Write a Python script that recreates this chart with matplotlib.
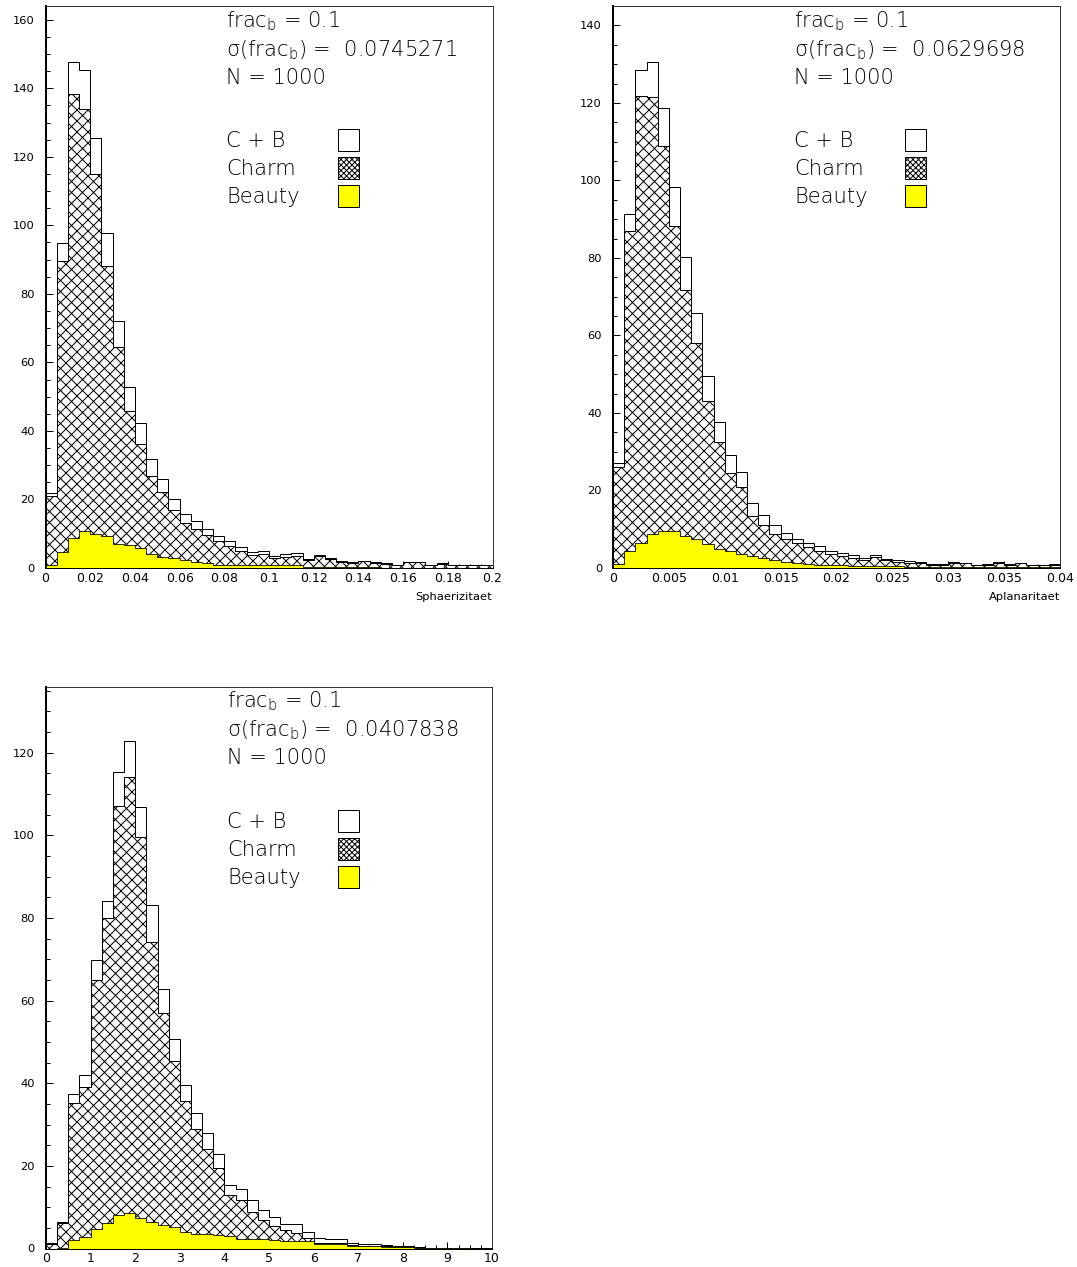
import numpy as np
import matplotlib
matplotlib.use('Agg')
import matplotlib.pyplot as plt
from matplotlib.patches import Rectangle
from matplotlib.ticker import FixedLocator, FixedFormatter, MultipleLocator

DPI = 66
W, H = 1077, 1267


def pt(px):
    return px * 72.0 / DPI


plt.rcParams['font.family'] = ['DejaVu Sans']
plt.rcParams['hatch.linewidth'] = pt(1.0)
plt.rcParams['hatch.color'] = 'black'

# ---------------- data ----------------
# Panel 1: Sphaerizitaet, 40 bins on [0, 0.2]
sph_range = (0.0, 0.2)
sph_total = [22, 94.7, 147.6, 145.2, 125.6, 97.9, 72.2, 52.9, 42.3, 31.7,
             26.1, 20.0, 15.8, 13.7, 11.5, 9.3, 7.8, 6.1, 4.8, 4.9,
             3.6, 4.1, 4.3, 2.6, 3.8, 2.9, 2.0, 1.7, 2.1, 1.7,
             1.4, 1.0, 1.8, 1.8, 1.0, 1.4, 1.0, 1.0, 0.9, 1.0]
sph_charm = [21, 89.6, 138.3, 133.9, 114.9, 88.1, 64.6, 45.9, 36.1, 26.8,
             22.2, 16.8, 13.2, 11.5, 9.6, 8.0, 6.4, 5.1, 3.9, 4.0,
             2.8, 3.3, 3.5, 2.3, 3.5, 2.7, 1.8, 1.5, 1.9, 1.5,
             1.3, 0.9, 1.7, 1.7, 0.9, 1.3, 0.9, 0.9, 0.8, 0.9]
sph_beauty = [1.0, 4.8, 8.8, 10.7, 10.0, 9.3, 7.1, 6.6, 5.7, 4.1,
              3.3, 2.8, 2.2, 1.7, 1.4, 1.0, 1.0, 1.0, 0.9, 0.9,
              0.8, 0.8, 0.8, 0.3, 0.3, 0.2, 0.2, 0.2, 0.2, 0.2,
              0.1, 0.1, 0.1, 0.1, 0.1, 0.1, 0.1, 0.1, 0.1, 0.1]
sph_xticklabels = ['0', '0.02', '0.04', '0.06', '0.08', '0.1', '0.12',
                   '0.14', '0.16', '0.18', '0.2']
sph_sigma = '0.0745271'

# Panel 2: Aplanaritaet, 40 bins on [0, 0.04]
apl_range = (0.0, 0.04)
apl_total = [27.0, 91.4, 128.4, 130.6, 118.7, 98.2, 80.2, 65.7, 49.6, 37.6,
             29.2, 24.7, 16.8, 13.7, 11.0, 9.0, 7.6, 6.5, 5.6, 4.4,
             3.9, 3.4, 2.7, 3.4, 2.4, 2.0, 1.7, 1.5, 1.1, 1.1,
             1.6, 1.4, 0.9, 1.1, 1.5, 1.1, 1.4, 0.9, 0.9, 1.1]
apl_charm = [26.0, 86.9, 121.7, 121.5, 109.0, 88.2, 71.6, 58.0, 43.2, 32.4,
             24.5, 20.8, 13.5, 11.2, 8.8, 7.6, 6.5, 5.4, 4.4, 3.5,
             3.0, 2.7, 2.0, 2.8, 2.0, 1.6, 1.4, 1.2, 0.9, 0.9,
             1.4, 1.2, 0.7, 0.9, 1.3, 0.9, 1.2, 0.7, 0.7, 0.9]
apl_beauty = [1.0, 4.3, 6.5, 8.8, 9.6, 9.6, 8.3, 7.6, 6.2, 4.9,
              4.3, 3.6, 3.1, 2.5, 2.0, 1.6, 1.3, 1.1, 0.9, 0.9,
              0.7, 0.6, 0.6, 0.6, 0.5, 0.4, 0.3, 0.3, 0.2, 0.2,
              0.2, 0.2, 0.2, 0.2, 0.2, 0.2, 0.2, 0.2, 0.2, 0.2]
apl_xticklabels = ['0', '0.005', '0.01', '0.015', '0.02', '0.025', '0.03',
                   '0.035', '0.04']
apl_sigma = '0.0629698'

# Panel 3: third variable, 40 bins on [0, 10]
var3_range = (0.0, 10.0)
var3_total = [1.4, 6.5, 37.4, 42.1, 69.9, 84.2, 115.2, 122.9, 106.9, 83.2,
              62.9, 50.8, 39.5, 32.8, 28.0, 22.9, 15.4, 14.4, 11.8, 9.2,
              7.7, 5.9, 5.9, 4.1, 2.6, 2.4, 2.3, 1.4, 1.2, 1.1,
              0.9, 0.6, 0.6, 0.4, 0.2, 0.1, 0.1, 0.0, 0.0, 0.0]
var3_charm = [1.2, 6.1, 35.1, 39.0, 65.0, 80.0, 107.0, 114.1, 99.6, 74.1,
              57.1, 45.3, 35.6, 28.9, 24.1, 19.5, 13.0, 11.8, 8.9, 6.9,
              5.5, 4.4, 3.8, 2.5, 1.4, 1.3, 1.4, 0.8, 0.7, 0.6,
              0.5, 0.3, 0.3, 0.2, 0.1, 0.05, 0.0, 0.0, 0.0, 0.0]
var3_beauty = [0.0, 0.2, 2.1, 2.9, 4.7, 6.1, 8.1, 8.5, 7.3, 6.5,
               5.7, 5.3, 3.9, 3.6, 3.5, 3.2, 3.0, 2.4, 2.4, 2.2,
               2.0, 1.9, 1.9, 1.7, 1.0, 1.0, 1.0, 0.6, 0.6, 0.6,
               0.4, 0.4, 0.3, 0.2, 0.2, 0.1, 0.1, 0.05, 0.0, 0.0]
var3_xticklabels = ['0', '1', '2', '3', '4', '5', '6', '7', '8', '9', '10']
var3_sigma = '0.0407838'

frac_b = '0.1'
n_events = '1000'
legend_labels = ['C + B', 'Charm', 'Beauty']

panels = [
    dict(rng=sph_range, total=sph_total, charm=sph_charm, beauty=sph_beauty,
         xtl=sph_xticklabels, xminor=0.005, ymax=164, sigma=sph_sigma,
         xlabel='Sphaerizitaet', box=(45.5, 6, 447, 562)),
    dict(rng=apl_range, total=apl_total, charm=apl_charm, beauty=apl_beauty,
         xtl=apl_xticklabels, xminor=0.001, ymax=145, sigma=apl_sigma,
         xlabel='Aplanaritaet', box=(613, 6, 447, 562)),
    dict(rng=var3_range, total=var3_total, charm=var3_charm, beauty=var3_beauty,
         xtl=var3_xticklabels, xminor=0.25, ymax=136, sigma=var3_sigma,
         xlabel=None, box=(46, 686.5, 446, 562)),
]

fig = plt.figure(figsize=(W / DPI, H / DPI), dpi=DPI, facecolor='white')

TXT_FS = pt(21.0)
TXT_KW = dict(fontsize=TXT_FS, fontweight='light', color='black')

for p in panels:
    left, top, wpx, hpx = p['box']
    ax = fig.add_axes([left / W, 1 - (top + hpx) / H, wpx / W, hpx / H])
    nb = len(p['total'])
    edges = np.linspace(p['rng'][0], p['rng'][1], nb + 1)

    ax.stairs(p['total'], edges, baseline=0, fill=False, color='black',
              lw=pt(1.0), zorder=2)
    ax.stairs(p['charm'], edges, baseline=0, fill=True, facecolor='white',
              edgecolor='black', hatch='xx', lw=pt(1.0), zorder=3)
    ax.stairs(p['beauty'], edges, baseline=0, fill=True, facecolor='#ffff00',
              edgecolor='black', lw=pt(0.8), zorder=4)

    ax.set_xlim(*p['rng'])
    ax.set_ylim(0, p['ymax'])

    ax.xaxis.set_major_locator(FixedLocator([float(t) for t in p['xtl']]))
    ax.xaxis.set_major_formatter(FixedFormatter(p['xtl']))
    ax.xaxis.set_minor_locator(MultipleLocator(p['xminor']))
    ax.yaxis.set_major_locator(MultipleLocator(20))
    ax.yaxis.set_minor_locator(MultipleLocator(5))

    ax.tick_params(which='both', direction='in', top=False, right=False,
                   width=pt(1.0), color='black')
    ax.tick_params(which='major', length=pt(7))
    ax.tick_params(which='minor', length=pt(4))
    ax.tick_params(axis='x', which='major', pad=pt(4), labelsize=pt(12.5),
                   labelcolor='black')
    ax.tick_params(axis='y', which='major', pad=pt(11), labelsize=pt(11.5),
                   labelcolor='black')

    ax.spines['left'].set_linewidth(pt(2))
    ax.spines['bottom'].set_linewidth(pt(2))
    for s in ('top', 'right'):
        ax.spines[s].set_linewidth(pt(1))
        ax.spines[s].set_color('#333333')

    if p['xlabel']:
        ax.text(1.0, -29.0 / hpx, p['xlabel'], transform=ax.transAxes,
                ha='right', va='center', fontsize=pt(11.5), color='black')

    # annotation text
    tx = 181.0 / wpx
    lines = [r'frac$_{\mathregular{b}}$ = ' + frac_b,
             r'σ(frac$_{\mathregular{b}}$) =  ' + p['sigma'],
             'N = ' + n_events]
    for off, s in zip([21, 50, 78], lines):
        ax.text(tx, 1 - off / hpx, s, transform=ax.transAxes, ha='left',
                va='baseline', **TXT_KW)

    # legend
    styles = [dict(facecolor='white'),
              dict(facecolor='white', hatch='xxxx'),
              dict(facecolor='#ffff00')]
    for off, lab, st in zip([141, 169, 197], legend_labels, styles):
        ax.text(tx, 1 - off / hpx, lab, transform=ax.transAxes, ha='left',
                va='baseline', **TXT_KW)
        cy = off - 7
        rect = Rectangle((292.0 / wpx, 1 - (cy + 11) / hpx), 21.0 / wpx,
                         22.0 / hpx, transform=ax.transAxes, edgecolor='black',
                         lw=pt(1.0), zorder=5, **st)
        ax.add_patch(rect)

fig.savefig('out.png', dpi=DPI, facecolor='white')
